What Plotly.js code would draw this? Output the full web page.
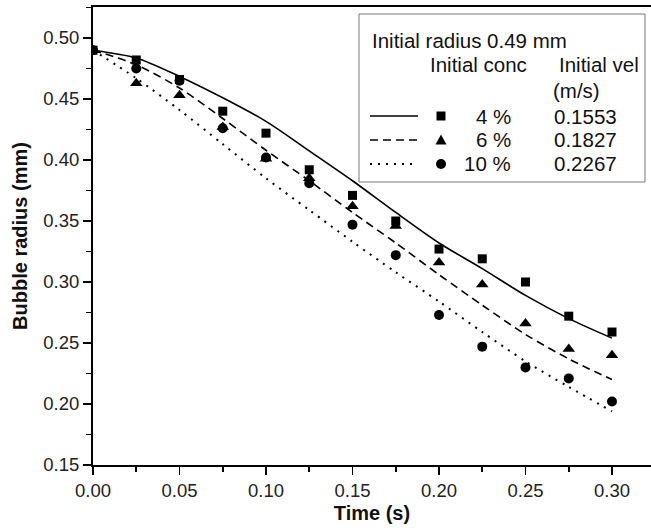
<!DOCTYPE html>
<html>
<head>
<meta charset="utf-8">
<script src="https://cdn.plot.ly/plotly-3.0.1.min.js"></script>
<style>html,body{margin:0;padding:0;background:#fff;}#chart{width:651px;height:532px;}</style>
</head>
<body>
<div id="chart"></div>
<script>
// ---- data ----
const time = [0.000, 0.025, 0.050, 0.075, 0.100, 0.125, 0.150, 0.175, 0.200, 0.225, 0.250, 0.275, 0.300];
// measured bubble radius (mm)
const radius4  = [0.490, 0.482, 0.466, 0.440, 0.422, 0.392, 0.371, 0.350, 0.327, 0.319, 0.300, 0.272, 0.259];
const radius6  = [0.490, 0.463, 0.453, 0.427, 0.401, 0.385, 0.362, 0.346, 0.316, 0.298, 0.266, 0.245, 0.240];
const radius10 = [0.490, 0.475, 0.465, 0.426, 0.402, 0.381, 0.347, 0.322, 0.273, 0.247, 0.230, 0.221, 0.202];
// model curves (mm)
const model4  = [0.490, 0.4836, 0.4685, 0.451, 0.4317, 0.4075, 0.383, 0.357, 0.332, 0.311, 0.289, 0.270, 0.254];
const model6  = [0.490, 0.478, 0.459, 0.434, 0.408, 0.383, 0.357, 0.332, 0.306, 0.281, 0.257, 0.237, 0.220];
const model10 = [0.490, 0.467, 0.441, 0.413, 0.385, 0.359, 0.333, 0.308, 0.284, 0.259, 0.235, 0.214, 0.194];
// legend content
const concLabels = ['4 %', '6 %', '10 %'];
const velLabels = ['0.1553', '0.1827', '0.2267'];
const legendTitle = 'Initial radius 0.49 mm';
const colConc = 'Initial conc';
const colVel = 'Initial vel';
const colVelUnit = '(m/s)';

// ---- layout geometry (pixels) ----
const W = 651, H = 532;
const L = 93, R = 0, T = 7, B = 67;
const PW = W - L - R, PH = H - T - B;
const px = x => (x - L) / PW;
const py = y => (H - B - y) / PH;

const FONT = 'Liberation Sans, Arial, Helvetica, sans-serif';
const ink = '#000';

const markerStyles = [
  {symbol: 'square', size: 9},
  {symbol: 'triangle-up', size: 11},
  {symbol: 'circle', size: 10}
];
const dashes = ['solid', '8px,5px', '2px,6px'];
const measured = [radius4, radius6, radius10];
const models = [model4, model6, model10];

const traces = [];
for (let i = 0; i < 3; i++) {
  traces.push({
    x: time, y: models[i], mode: 'lines', type: 'scatter',
    line: {color: ink, width: i === 2 ? 2 : 1.6, dash: dashes[i], shape: 'spline', smoothing: 0.8},
    showlegend: false, hoverinfo: 'skip'
  });
}
for (let i = 0; i < 3; i++) {
  traces.push({
    x: time, y: measured[i], mode: 'markers', type: 'scatter',
    marker: {color: ink, symbol: markerStyles[i].symbol, size: markerStyles[i].size, line: {width: 0}},
    showlegend: false
  });
}

// ---- custom legend box ----
const shapes = [];
const annotations = [];
shapes.push({type: 'rect', xref: 'paper', yref: 'paper',
  x0: px(359), x1: px(645), y0: py(182), y1: py(14),
  line: {color: '#777', width: 1}, fillcolor: '#fff', layer: 'above'});

const rowY = [116, 140, 164];
const txtFont = {family: FONT, size: 20.5, color: '#111'};
annotations.push({xref: 'paper', yref: 'paper', x: px(370), y: py(40), xanchor: 'left', yanchor: 'middle',
  text: legendTitle, showarrow: false, font: txtFont});
annotations.push({xref: 'paper', yref: 'paper', x: px(428), y: py(65), xanchor: 'left', yanchor: 'middle',
  text: colConc, showarrow: false, font: txtFont});
annotations.push({xref: 'paper', yref: 'paper', x: px(557), y: py(65), xanchor: 'left', yanchor: 'middle',
  text: colVel, showarrow: false, font: txtFont});
annotations.push({xref: 'paper', yref: 'paper', x: px(551), y: py(90), xanchor: 'left', yanchor: 'middle',
  text: colVelUnit, showarrow: false, font: txtFont});

for (let i = 0; i < 3; i++) {
  const y = rowY[i];
  shapes.push({type: 'line', xref: 'paper', yref: 'paper', x0: px(370), x1: px(418), y0: py(y), y1: py(y),
    line: {color: ink, width: i === 2 ? 2 : 1.6, dash: dashes[i]}, layer: 'above'});
  const cx = 441;
  if (i === 0) {
    shapes.push({type: 'rect', xref: 'paper', yref: 'paper', x0: px(cx - 4.5), x1: px(cx + 4.5), y0: py(y + 4.5), y1: py(y - 4.5),
      fillcolor: ink, line: {width: 0}, layer: 'above'});
  } else if (i === 1) {
    shapes.push({type: 'path', xref: 'paper', yref: 'paper',
      path: `M ${px(cx - 5.5)} ${py(y + 4.5)} L ${px(cx + 5.5)} ${py(y + 4.5)} L ${px(cx)} ${py(y - 5.5)} Z`,
      fillcolor: ink, line: {width: 0}, layer: 'above'});
  } else {
    shapes.push({type: 'circle', xref: 'paper', yref: 'paper', x0: px(cx - 5), x1: px(cx + 5), y0: py(y + 5), y1: py(y - 5),
      fillcolor: ink, line: {width: 0}, layer: 'above'});
  }
  annotations.push({xref: 'paper', yref: 'paper', x: px(513), y: py(y), xanchor: 'right', yanchor: 'middle',
    text: concLabels[i], showarrow: false, font: txtFont});
  annotations.push({xref: 'paper', yref: 'paper', x: px(552), y: py(y), xanchor: 'left', yanchor: 'middle',
    text: velLabels[i], showarrow: false, font: txtFont});
}

const axisCommon = {
  showgrid: false, zeroline: false, showline: true, linecolor: ink, linewidth: 2,
  ticks: 'outside', ticklen: 8, tickwidth: 1.6, tickcolor: ink,
  tickfont: {family: FONT, size: 18.5, color: '#222'}
};

const layout = {
  width: W, height: H,
  margin: {l: L, r: R, t: T, b: B, pad: 0},
  paper_bgcolor: '#fff', plot_bgcolor: '#fff',
  showlegend: false,
  xaxis: Object.assign({}, axisCommon, {
    range: [0, (W - L) / 1730], dtick: 0.05, tick0: 0, tickformat: '.2f',
    mirror: true,
    minor: {dtick: 0.025, tick0: 0, ticks: 'outside', ticklen: 5, tickwidth: 1.6, tickcolor: ink},
    title: {text: '<b>Time (s)</b>', font: {family: FONT, size: 20, color: '#111'}, standoff: 6}
  }),
  yaxis: Object.assign({}, axisCommon, {
    range: [0.15, 0.15 + PH / 1220], dtick: 0.05, tick0: 0.15, tickformat: '.2f',
    minor: {dtick: 0.025, tick0: 0.15, ticks: 'outside', ticklen: 5, tickwidth: 1.6, tickcolor: ink},
    title: {text: '<b>Bubble radius (mm)</b>', font: {family: FONT, size: 20, color: '#111'}, standoff: 10}
  }),
  shapes: shapes,
  annotations: annotations
};

Plotly.newPlot('chart', traces, layout, {displayModeBar: false, staticPlot: true});
</script>
</body>
</html>
